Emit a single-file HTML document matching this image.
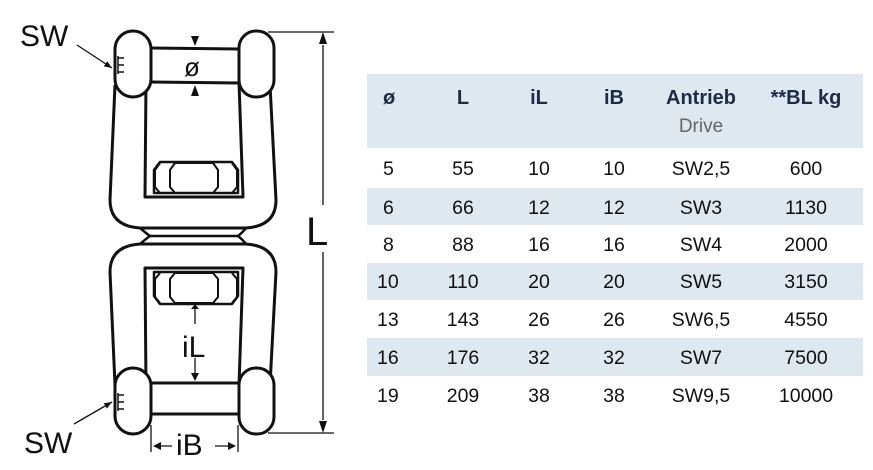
<!DOCTYPE html>
<html><head><style>html,body{margin:0;padding:0;background:#fff;width:873px;height:470px;overflow:hidden}</style></head>
<body>
<svg width="873" height="470" viewBox="0 0 873 470" xmlns="http://www.w3.org/2000/svg" font-family="Liberation Sans, sans-serif">
<defs>
<marker id="ah" viewBox="0 0 10 10" refX="10" refY="5" markerWidth="6" markerHeight="6" orient="auto"><path d="M0,1 L10,5 L0,9 z" fill="#111"/></marker>
</defs>
<!-- Table -->
<rect x="367" y="74" width="496" height="74" fill="#dde8f1"/>
<rect x="367" y="188" width="496" height="37" fill="#dde8f1"/>
<rect x="367" y="263" width="496" height="37" fill="#dde8f1"/>
<rect x="367" y="338" width="496" height="38" fill="#dde8f1"/>
<g font-size="20" font-weight="bold" fill="#1d2b44">
<text x="383" y="104">ø</text>
<text x="463" y="104" text-anchor="middle">L</text>
<text x="539" y="104" text-anchor="middle">iL</text>
<text x="614" y="104" text-anchor="middle">iB</text>
<text x="701" y="104" text-anchor="middle">Antrieb</text>
<text x="806" y="104" text-anchor="middle">**BL kg</text>
</g>
<text x="701" y="132" text-anchor="middle" font-size="19" fill="#666">Drive</text>
<g font-size="19.5" fill="#111">
<g text-anchor="start">
<text x="383" y="175">5</text><text x="383" y="214">6</text><text x="383" y="251">8</text><text x="377" y="288">10</text><text x="377" y="326">13</text><text x="377" y="364">16</text><text x="377" y="402">19</text>
</g>
<g text-anchor="middle">
<text x="463" y="175">55</text><text x="463" y="214">66</text><text x="463" y="251">88</text><text x="463" y="288">110</text><text x="463" y="326">143</text><text x="463" y="364">176</text><text x="463" y="402">209</text>
<text x="539" y="175">10</text><text x="539" y="214">12</text><text x="539" y="251">16</text><text x="539" y="288">20</text><text x="539" y="326">26</text><text x="539" y="364">32</text><text x="539" y="402">38</text>
<text x="614" y="175">10</text><text x="614" y="214">12</text><text x="614" y="251">16</text><text x="614" y="288">20</text><text x="614" y="326">26</text><text x="614" y="364">32</text><text x="614" y="402">38</text>
<text x="701" y="175">SW2,5</text><text x="701" y="214">SW3</text><text x="701" y="251">SW4</text><text x="701" y="288">SW5</text><text x="701" y="326">SW6,5</text><text x="701" y="364">SW7</text><text x="701" y="402">SW9,5</text>
<text x="806" y="175">600</text><text x="806" y="214">1130</text><text x="806" y="251">2000</text><text x="806" y="288">3150</text><text x="806" y="326">4550</text><text x="806" y="364">7500</text><text x="806" y="402">10000</text>
</g></g>

<!-- Drawing -->
<g fill="none" stroke="#111" stroke-width="3" stroke-linejoin="round">
<path d="M115,85 L110,200 Q110,226 140,228 L246,228 Q276,226 276,200 L270,85"/>
<path d="M146,82 L145,197 L243,197 L239,82"/>
<rect x="115" y="31" width="36" height="66" rx="18" fill="#fff"/>
<rect x="239" y="31" width="35" height="66" rx="17" fill="#fff"/>
<line x1="151" y1="48" x2="239" y2="49"/>
<line x1="151" y1="82" x2="239" y2="83"/>
<!-- top nut -->
<path d="M160,162 L232,162 L238,170 L238,193 L154,193 L154,170 Z" stroke-width="2.5"/>
<path d="M160,163 L155,170 L155,187 L160,193 M175,163 L170,170 L170,187 L175,193 L213,193 L218,187 L218,170 L213,163 Z M232,163 L237,170 L237,187 L232,193" stroke-width="2"/>
<path d="M140,228 Q147,234 150,236 L238,236 Q243,232 246,228" stroke-width="2.5"/>
<path d="M140,244 Q147,238 150,236 M238,236 Q243,240 246,244" stroke-width="2.5"/>
<path d="M115,385 L110,272 Q110,246 140,244 L246,244 Q276,246 276,272 L270,385"/>
<path d="M146,385 L145,268 L243,268 L239,385"/>
<!-- bottom nut -->
<path d="M160,304 L232,304 L238,296 L238,272 L154,272 L154,296 Z" stroke-width="2.5"/>
<path d="M160,273 L155,279 L155,297 L160,303 M175,273 L170,279 L170,297 L175,303 L213,303 L218,297 L218,279 L213,273 Z M232,273 L237,279 L237,297 L232,303" stroke-width="2"/>
<rect x="115" y="368" width="36" height="66" rx="18" fill="#fff"/>
<rect x="239" y="368" width="35" height="66" rx="17" fill="#fff"/>
<line x1="151" y1="383" x2="239" y2="383"/>
<line x1="151" y1="414" x2="239" y2="414"/>
</g>
<g stroke="#111" stroke-width="1.5">
<path d="M118,58 h6 M118,65 h6 M118,72 h6 M118,56 v18"/>
<path d="M118,395 h6 M118,402 h6 M118,409 h6 M118,393 v18"/>
</g>
<g stroke="#111" stroke-width="1.3" fill="none">
<line x1="268" y1="32" x2="334" y2="32"/>
<line x1="268" y1="433" x2="334" y2="433"/>
<line x1="323" y1="45" x2="323" y2="205" />
<line x1="323" y1="252" x2="323" y2="420"/>
<line x1="77" y1="45" x2="112" y2="68" marker-end="url(#ah)"/>
<line x1="74" y1="424" x2="112" y2="402" marker-end="url(#ah)"/>
<line x1="195" y1="307" x2="195" y2="324"/>
<line x1="195" y1="358" x2="195" y2="375"/>
<line x1="151" y1="425" x2="151" y2="452"/>
<line x1="238" y1="425" x2="238" y2="452"/>
<line x1="155" y1="446" x2="172" y2="446"/>
<line x1="215" y1="446" x2="234" y2="446"/>
</g>
<g fill="#111">
<path d="M319,44 L327,44 L323,32 Z"/>
<path d="M319,421 L327,421 L323,433 Z"/>
<path d="M191,36 L199,36 L195,46 Z"/>
<path d="M191,96 L199,96 L195,85 Z"/>
<path d="M191,309 L199,309 L195,304 Z"/>
<path d="M191,373 L199,373 L195,381 Z"/>
<path d="M153,446 L161,442 L161,450 Z"/>
<path d="M236,446 L228,442 L228,450 Z"/>
</g>
<g fill="#111">
<text x="20" y="46" font-size="30">SW</text>
<text x="24" y="453" font-size="30">SW</text>
<text x="306" y="245" font-size="40">L</text>
<text x="182" y="357" font-size="30">iL</text>
<text x="176" y="455" font-size="30">iB</text>
<text x="184" y="76" font-size="26">ø</text>
</g>
</svg>
</body></html>
